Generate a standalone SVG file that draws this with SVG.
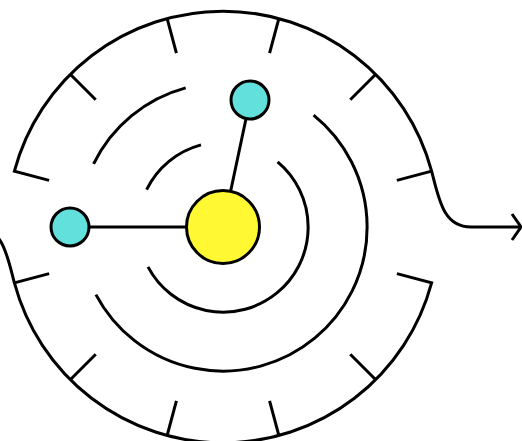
<svg xmlns="http://www.w3.org/2000/svg" width="522" height="441" viewBox="0 0 522 441">
  <style>
    .s { fill: none; stroke: #000; stroke-width: 3; stroke-linejoin: miter; }
    .node { stroke: #000; stroke-width: 3; }
    .hub { fill: #FFF833; }
    .leaf { fill: #62E0DC; }
  </style>
  <rect width="522" height="441" fill="#fff"/>
  <g id="maze" class="s">
    <path d="M49.1,180.4 L14.4,171.1 A216,216 0 0 1 431.6,171.1 C439,199 443,227 471,227 L521,227"/>
    <path d="M512,214 L521,227 L512,240"/>
    <path d="M-40,227 L-25,227 C3,227 7,255 14.4,282.9 A216,216 0 0 0 431.6,282.9 L396.9,273.6"/>
    <g id="ticks">
      <line x1="439" y1="227" x2="403" y2="227" transform="rotate(225 223 227)"/>
      <line x1="439" y1="227" x2="403" y2="227" transform="rotate(255 223 227)"/>
      <line x1="439" y1="227" x2="403" y2="227" transform="rotate(285 223 227)"/>
      <line x1="439" y1="227" x2="403" y2="227" transform="rotate(315 223 227)"/>
      <line x1="439" y1="227" x2="403" y2="227" transform="rotate(345 223 227)"/>
      <line x1="439" y1="227" x2="403" y2="227" transform="rotate(45 223 227)"/>
      <line x1="439" y1="227" x2="403" y2="227" transform="rotate(75 223 227)"/>
      <line x1="439" y1="227" x2="403" y2="227" transform="rotate(105 223 227)"/>
      <line x1="439" y1="227" x2="403" y2="227" transform="rotate(135 223 227)"/>
      <line x1="439" y1="227" x2="403" y2="227" transform="rotate(165 223 227)"/>
    </g>
    <path d="M313.6,115.1 A144,144 0 1 1 95.9,294.6"/>
    <path d="M93.6,163.9 A144,144 0 0 1 185.7,87.9"/>
    <path d="M277.6,161.9 A85,85 0 1 1 148,266.9"/>
    <path d="M146.6,189.7 A85,85 0 0 1 201,144.9"/>
  </g>
  <g id="connectors" class="s">
    <line x1="223" y1="227" x2="250" y2="100"/>
    <line x1="223" y1="227" x2="70" y2="227"/>
  </g>
  <g id="hub">
    <circle class="node hub" cx="223" cy="227" r="36.5"/>
  </g>
  <g id="node-top">
    <circle class="node leaf" cx="250" cy="100" r="19"/>
  </g>
  <g id="node-left">
    <circle class="node leaf" cx="70" cy="227" r="19"/>
  </g>
</svg>
